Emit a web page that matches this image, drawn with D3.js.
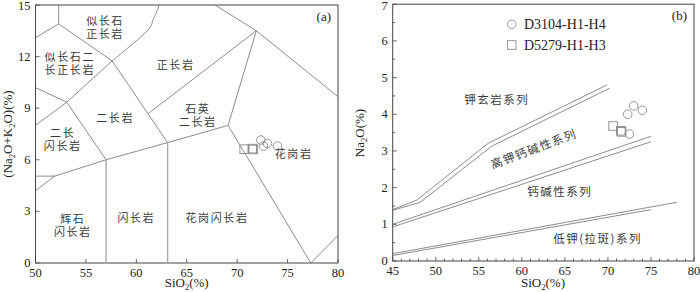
<!DOCTYPE html>
<html>
<head>
<meta charset="utf-8">
<script src="https://cdn.jsdelivr.net/npm/d3@7"></script>
<style>
  body { margin: 0; background: #fff; }
  svg { display: block; }
</style>
</head>
<body>
<svg id="chart" width="700" height="292"></svg>
<script>
// ---- data: panel (a), TAS plutonic diagram ----
const tasBoundaries = [
  [[52.3, 15], [52.3, 13.9]],
  [[50, 13.1], [52.3, 13.9], [57.6, 11.75]],
  [[50, 8.0], [53.1, 9.35], [57.6, 11.75]],
  [[50, 10.2], [53.1, 9.35], [57.0, 6.0]],
  [[57.6, 11.75], [63.1, 7.0]],
  [[61.2, 8.7], [71.9, 13.5], [67.8, 15]],
  [[71.9, 13.5], [80, 9.67]],
  [[71.9, 13.5], [69.1, 8.0], [77.3, 0], [80, 1.6]],
  [[50, 5.05], [51.9, 5.05], [57.0, 6.0], [63.1, 7.0], [69.1, 8.0]],
  [[50, 4.2], [51.9, 5.05]]
];
const tasCurve = [[57.6, 11.75], [61.0, 13.45], [61.7, 14.2], [62.3, 15]];
const tasVerticals = [[[57.0, 6.0], [57.0, 0]], [[63.1, 7.0], [63.1, 0]]];
const tasNames = [
  {lines: ['似长石', '正长岩'], at: [56.9, 13.85]},
  {lines: ['似长石二', '长正长岩'], at: [53.4, 11.75]},
  {lines: ['正长岩'], at: [63.9, 11.3]},
  {lines: ['石英', '二长岩'], at: [66.1, 8.75]},
  {lines: ['二长岩'], at: [57.9, 8.2]},
  {lines: ['二长', '闪长岩'], at: [52.7, 7.35]},
  {lines: ['辉石', '闪长岩'], at: [53.7, 2.35]},
  {lines: ['闪长岩'], at: [60.0, 2.4]},
  {lines: ['花岗闪长岩'], at: [68.0, 2.4]},
  {lines: ['花岗岩'], at: [75.6, 6.1]}
];
const circleSiO2 = [72.35, 73.0, 74.0, 72.6];
const circleAlk = [7.15, 6.95, 6.8, 6.8];
const squareSiO2 = [70.7, 71.5, 71.6];
const squareAlk = [6.62, 6.65, 6.6];

// ---- data: panel (b), SiO2 series diagram ----
const seriesLines = [
  [[45, 1.4], [47.8, 1.66], [56.1, 3.21], [69.9, 4.8]],
  [[45, 1.38], [48.2, 1.6], [56.5, 3.13], [70.2, 4.71]],
  [[45, 1.0], [75, 3.4]],
  [[45, 0.93], [75, 3.25]],
  [[45, 0.2], [78, 1.6]],
  [[45, 0.15], [75, 1.4]]
];
const seriesNames = [
  {text: '钾玄岩系列', at: [57.1, 4.4], rot: 0},
  {text: '高钾钙碱性系列', at: [61.4, 3.05], rot: -20.7},
  {text: '钙碱性系列', at: [64.4, 1.88], rot: 0},
  {text: '低钾(拉斑)系列', at: [68.8, 0.6], rot: 0}
];
const circleNa = [4.0, 4.23, 4.11, 3.46];
const circleSiB = [72.3, 73.0, 74.0, 72.5];
const squareNa = [3.68, 3.55, 3.52];
const squareSiB = [70.6, 71.5, 71.6];
const legendNames = ['D3104-H1-H4', 'D5279-H1-H3'];

// ---- drawing ----
const svg = d3.select('#chart');
const SERIF = '"Liberation Serif", "Times New Roman", serif';
const CJK = '"Noto Sans CJK SC", sans-serif';
const LINE = '#6e6e6e';
const MARK = '#8a8a8a';

const xA = d3.scaleLinear().domain([50, 80]).range([35.5, 338]);
const yA = d3.scaleLinear().domain([0, 15]).range([263, 5]);
const xB = d3.scaleLinear().domain([45, 80]).range([392.7, 694]);
const yB = d3.scaleLinear().domain([0, 7]).range([261, 4.2]);

function panel(x, y, xt, yt, xMinor, yMinor) {
  const g = svg.append('g');
  const [x0, x1] = x.range(), [y0, y1] = y.range();
  // inward ticks
  const tk = (vals, len, horiz) => vals.forEach(v => {
    if (horiz) g.append('line').attr('x1', x(v)).attr('x2', x(v)).attr('y1', y0).attr('y2', y0 - len);
    else g.append('line').attr('x1', x0).attr('x2', x0 + len).attr('y1', y(v)).attr('y2', y(v));
  });
  tk(xt, 4, true); tk(yt, 4, false);
  tk(xMinor, 2.5, true); tk(yMinor, 2.5, false);
  g.selectAll('line').attr('stroke', '#444').attr('stroke-width', 0.8);
  g.append('rect').attr('x', x0).attr('y', y1).attr('width', x1 - x0).attr('height', y0 - y1)
    .attr('fill', 'none').attr('stroke', '#444').attr('stroke-width', 1);
  g.selectAll('.xl').data(xt).join('text')
    .attr('x', d => x(d)).attr('y', y0 + 14).attr('text-anchor', 'middle')
    .attr('font-family', SERIF).attr('font-size', 12.5).attr('fill', '#222').text(d => d);
  g.selectAll('.yl').data(yt).join('text')
    .attr('x', x0 - 5).attr('y', d => Math.max(y(d) + 4, 9.5)).attr('text-anchor', 'end')
    .attr('font-family', SERIF).attr('font-size', 12.5).attr('fill', '#222').text(d => d);
  return g;
}

const gA = panel(xA, yA, d3.range(50, 81, 5), d3.range(0, 16, 3), [], []);
const gB = panel(xB, yB, d3.range(45, 81, 5), d3.range(0, 8, 1),
  d3.range(46, 80, 1).filter(v => v % 5 !== 0), d3.range(0.5, 7, 1));

const lineA = d3.line().x(d => xA(d[0])).y(d => yA(d[1]));
const curveA = d3.line().x(d => xA(d[0])).y(d => yA(d[1])).curve(d3.curveCardinal);
const lineB = d3.line().x(d => xB(d[0])).y(d => yB(d[1]));

gA.selectAll('.b').data(tasBoundaries).join('path')
  .attr('d', lineA).attr('fill', 'none').attr('stroke', LINE).attr('stroke-width', 0.8);
gA.append('path').attr('d', curveA(tasCurve))
  .attr('fill', 'none').attr('stroke', LINE).attr('stroke-width', 0.8);
gA.selectAll('.v').data(tasVerticals).join('path')
  .attr('d', lineA).attr('fill', 'none').attr('stroke', '#a8a8a8').attr('stroke-width', 1.4);

tasNames.forEach(n => {
  const t = gA.append('text').attr('text-anchor', 'middle')
    .attr('font-family', CJK).attr('font-size', 11).attr('fill', '#3a3a3a')
    .attr('letter-spacing', 1.6);
  n.lines.forEach((s, i) => {
    t.append('tspan').attr('x', xA(n.at[0])).attr('y', yA(n.at[1]) + i * 13.5).text(s);
  });
});

gB.selectAll('.s').data(seriesLines).join('path')
  .attr('d', lineB).attr('fill', 'none').attr('stroke', LINE).attr('stroke-width', 0.8);
seriesNames.forEach(n => {
  gB.append('text').attr('text-anchor', 'middle')
    .attr('transform', `translate(${xB(n.at[0])},${yB(n.at[1])}) rotate(${n.rot})`)
    .attr('dy', '0.35em')
    .attr('font-family', CJK).attr('font-size', 11.5).attr('fill', '#3a3a3a')
    .attr('letter-spacing', 1.5).text(n.text);
});

// sample markers, no fill
function markers(g, xs, ys, x, y, sq) {
  xs.forEach((v, i) => {
    const m = sq
      ? g.append('rect').attr('x', x(v) - 4.3).attr('y', y(ys[i]) - 4.3).attr('width', 8.6).attr('height', 8.6)
      : g.append('circle').attr('cx', x(v)).attr('cy', y(ys[i])).attr('r', 4.3);
    m.attr('fill', 'none').attr('stroke', MARK).attr('stroke-width', 0.9);
  });
}
markers(gA, squareSiO2, squareAlk, xA, yA, true);
markers(gA, circleSiO2, circleAlk, xA, yA, false);
markers(gB, squareSiB, squareNa, xB, yB, true);
markers(gB, circleSiB, circleNa, xB, yB, false);

// legend
const leg = svg.append('g');
leg.append('circle').attr('cx', 511.7).attr('cy', 24.3).attr('r', 4.3);
leg.append('rect').attr('x', 507.4).attr('y', 40.7).attr('width', 8.6).attr('height', 8.6);
leg.selectAll('circle, rect').attr('fill', 'none').attr('stroke', MARK).attr('stroke-width', 0.9);
leg.selectAll('text').data(legendNames).join('text')
  .attr('x', 524).attr('y', (d, i) => 29 + i * 20.7)
  .attr('font-family', SERIF).attr('font-size', 14).attr('fill', '#222').text(d => d);

// panel letters
svg.append('text').attr('x', 331).attr('y', 21).attr('text-anchor', 'end')
  .attr('font-family', SERIF).attr('font-size', 13).attr('fill', '#222').text('(a)');
svg.append('text').attr('x', 687).attr('y', 20).attr('text-anchor', 'end')
  .attr('font-family', SERIF).attr('font-size', 13).attr('fill', '#222').text('(b)');

// axis titles
const title = (x, y, rot, parts) => {
  const t = svg.append('text').attr('text-anchor', 'middle')
    .attr('transform', `translate(${x},${y}) rotate(${rot})`)
    .attr('font-family', SERIF).attr('font-size', 13).attr('fill', '#222');
  parts.forEach(p => {
    const s = t.append('tspan').text(p[0]);
    if (p[1]) s.attr('font-size', 8.5).attr('dy', 3);
    else if (p[2]) s.attr('dy', -3);
  });
};
title(186.7, 287, 0, [['SiO'], ['2', true], ['(%)', false, true]]);
title(543, 287, 0, [['SiO'], ['2', true], ['(%)', false, true]]);
title(12, 134, -90, [['(Na'], ['2', true], ['O+K', false, true], ['2', true], ['O)(%)', false, true]]);
title(364, 133, -90, [['Na'], ['2', true], ['O(%)', false, true]]);
</script>
</body>
</html>
